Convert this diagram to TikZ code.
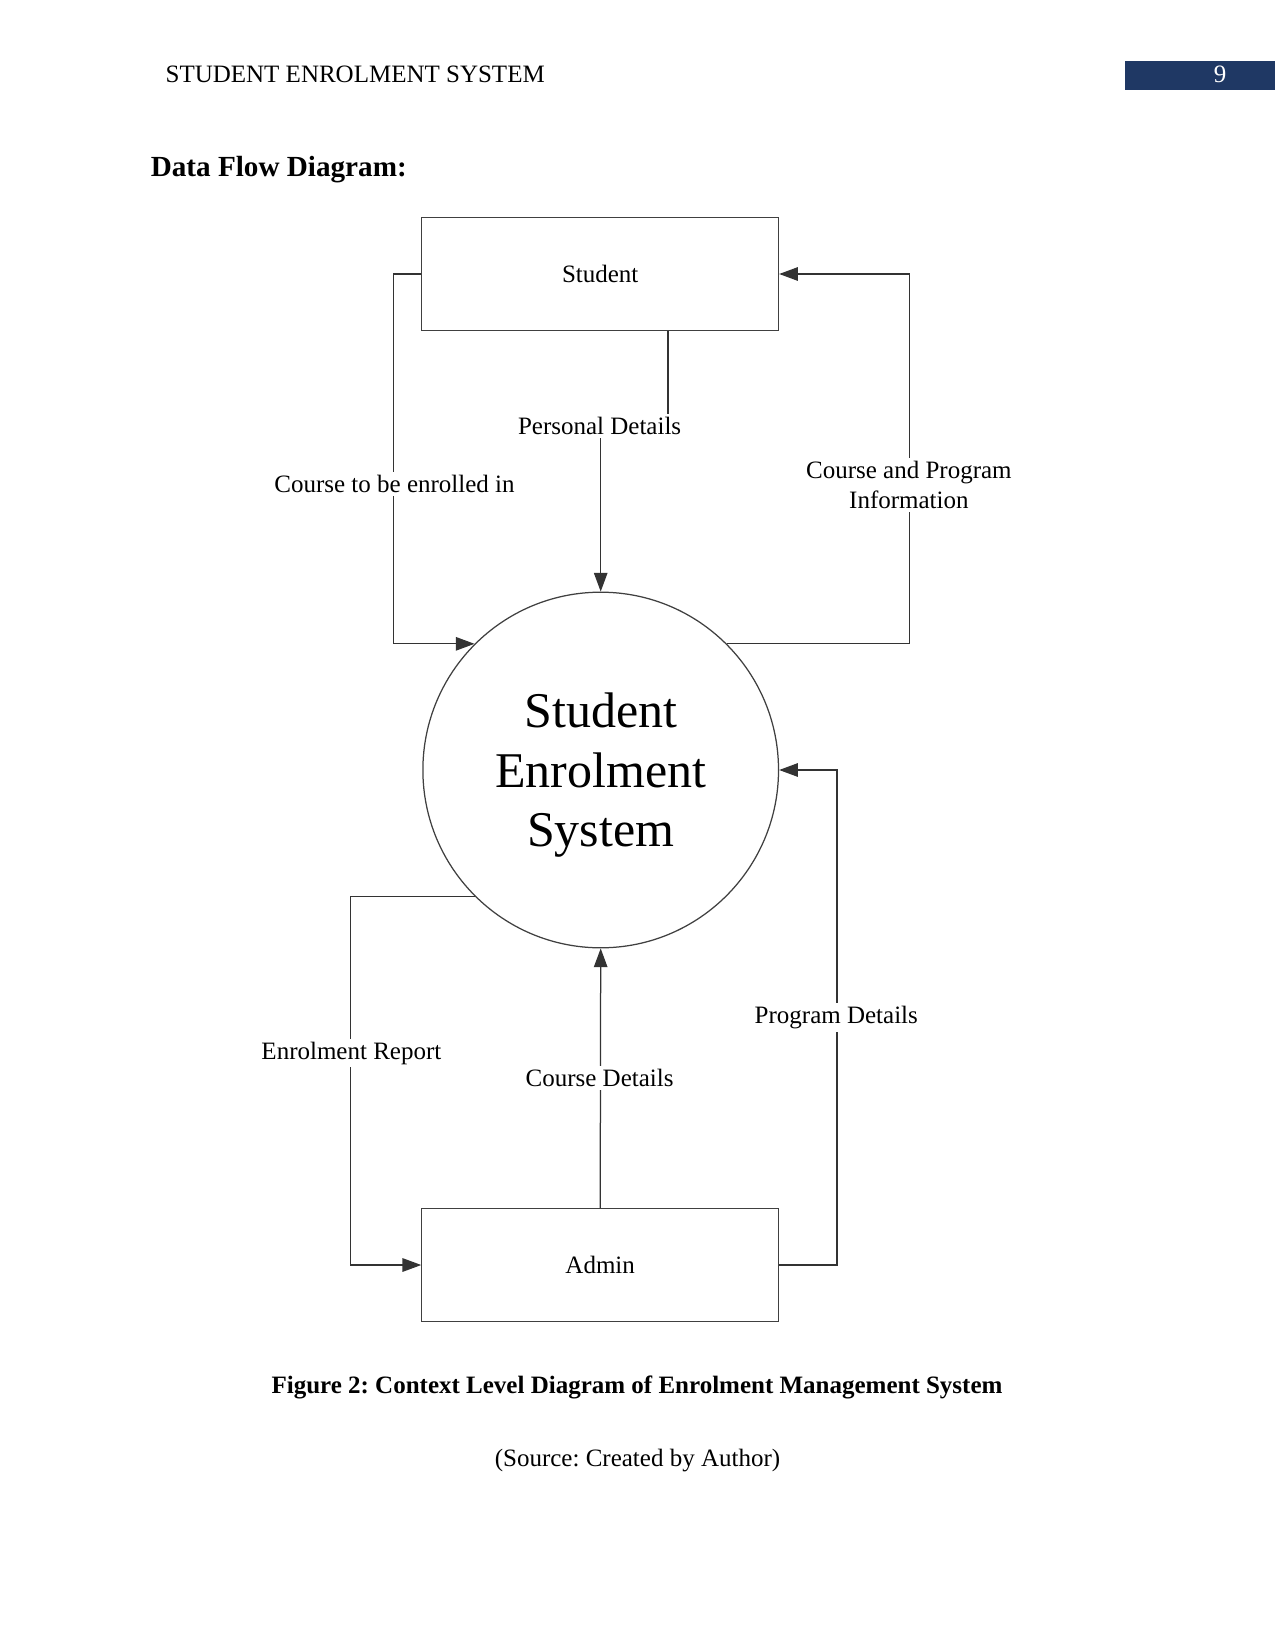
\documentclass[tikz,border=0pt]{standalone}
\usepackage{fontspec}
\setmainfont{Liberation Serif}
\usetikzlibrary{arrows.meta}
\definecolor{headblue}{RGB}{31,56,100}
\frenchspacing
\begin{document}
\begin{tikzpicture}[x=0.48pt,y=-0.48pt,
  entity/.style={draw=black!75,line width=0.6pt,minimum width=171.2pt,minimum height=54pt,inner sep=0pt,font=\fontsize{12}{14}\selectfont},
  proc/.style={draw=black!75,line width=0.6pt,circle,minimum size=170.7pt,inner sep=0pt},
  proctext/.style={align=center,inner sep=0pt,font=\fontsize{24}{28.5}\selectfont},
  flow/.style={draw=black!80,line width=0.6pt,-{Triangle[length=9pt,width=6.5pt]}},
  lbl/.style={fill=white,inner sep=1.5pt,align=center,font=\fontsize{12}{14}\selectfont}]
  \useasboundingbox (0,0) rectangle (1275,1650);
  \node[fill=headblue,minimum width=72.2pt,minimum height=13.6pt,inner sep=0pt,anchor=north west] (pagebox) at (1124.6,61) {};
  \node[text=white,inner sep=0pt,font=\fontsize{12}{14}\selectfont] (pagenum) at (1220,74.7) {9};
  \node[anchor=base west,inner sep=0pt,font=\fontsize{12}{14}\selectfont] (header) at (165.2,83) {STUDENT ENROLMENT SYSTEM};
  \node[anchor=base west,inner sep=0pt,font=\fontsize{14}{16}\selectfont\bfseries] (heading) at (150.4,176.7) {Data Flow Diagram:};

  \node[entity] (student) at (600.2,274) {Student};
  \node[proc] (sys) at (600.7,770) {};
  \node[proctext] (systext) at ([yshift=-2.5pt]sys.center) {Student\\Enrolment\\System};
  \node[entity] (admin) at (600.2,1265) {Admin};
  \coordinate (pdmid) at (600.7,426);

  \draw[flow] (student.west) -- ++(-27.4,0) |- (sys.135);
  \draw[flow] ([xshift=32.5pt]student.south) |- (pdmid) -- (sys.north);
  \draw[flow] (sys.45) -| ([xshift=62.6pt]student.east) -- (student.east);
  \draw[flow] (sys.225) -| ([xshift=-33.8pt]admin.west) -- (admin.west);
  \draw[flow] (admin.north) -- (sys.south);
  \draw[flow] (admin.east) -- ++(57.8,0) |- (sys.east);

  \node[lbl] (lblcourse) at (394.5,484) {Course to be enrolled in};
  \node[lbl] (lblpersonal) at (599.6,426) {Personal Details};
  \node[lbl] (lblinfo) at (908.9,485) {Course and Program\\Information};
  \node[lbl] (lblreport) at (351.4,1053) {Enrolment Report};
  \node[lbl] (lblcoursedet) at (599.6,1078.3) {Course Details};
  \node[lbl] (lblprogram) at (836.3,1017.3) {Program Details};

  \node[anchor=base,inner sep=0pt,font=\fontsize{12}{14}\selectfont\bfseries] (caption) at (637,1393) {Figure 2: Context Level Diagram of Enrolment Management System};
  \node[anchor=base,inner sep=0pt,font=\fontsize{12}{14}\selectfont] (source) at (637.5,1466.6) {(Source: Created by Author)};
\end{tikzpicture}
\end{document}
